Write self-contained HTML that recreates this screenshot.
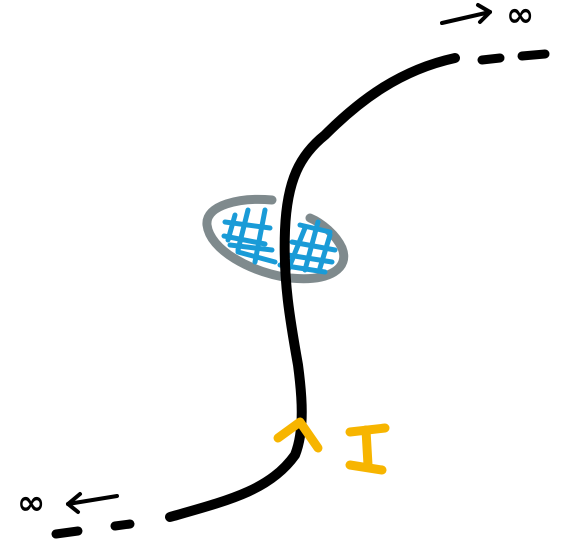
<!DOCTYPE html>
<html><head><style>html,body{margin:0;padding:0;background:#fff;}svg{display:block}</style></head>
<body>
<svg width="563" height="556" viewBox="0 0 563 556" xmlns="http://www.w3.org/2000/svg">
<g fill="none" stroke-linecap="round" stroke-linejoin="round">
  <path d="M272,200 C240,197 205,205 207,225 C210,250 250,272 290,278 C330,282 350,268 342,248 C336,235 322,223 310,218" stroke="#7f8a8d" stroke-width="9"/>
  <g stroke="#1a9bd7" stroke-width="5">
    <path d="M248,210 L238,250"/><path d="M265,210 L255,262"/><path d="M235,215 L228,240"/>
    <path d="M225,222 L270,228"/><path d="M224,236 L265,244"/><path d="M238,252 L275,262"/>
    <path d="M230,245 L272,250"/>
    <path d="M305,228 L288,270"/><path d="M318,222 L305,270"/><path d="M330,235 L320,268"/>
    <path d="M292,242 L335,250"/><path d="M288,255 L332,262"/><path d="M280,265 L325,272"/>
    <path d="M300,225 L330,232"/>
  </g>
  <path d="M170,517 C230,500 270,490 295,455 C305,430 302,395 298,365 C290,320 283,280 285,230 C287,180 300,155 325,135 C360,100 400,70 455,58" stroke="#000" stroke-width="10"/>
  <g stroke="#000" stroke-width="9">
    <path d="M482,60 L500,58"/><path d="M522,56 L545,54"/>
  </g>
  <g stroke="#000" stroke-width="4">
    <path d="M442,23 L490,12"/><path d="M478,5 L490,12 L480,22"/>
  </g>
  <g stroke="#000" stroke-width="9">
    <path d="M56,534 L78,531"/><path d="M115,526 L130,524"/>
  </g>
  <g stroke="#000" stroke-width="4">
    <path d="M117,496 L68,504"/><path d="M80,494 L68,504 L78,512"/>
  </g>
  <g stroke="#f7b500" stroke-width="9">
    <path d="M278,438 L300,422 L318,448"/>
  </g>
  <g stroke="#f7b500" stroke-width="9">
    <path d="M350,432 L385,428"/><path d="M366,430 L368,465"/><path d="M350,465 L382,470"/>
  </g>
</g>
<text x="506" y="26" font-family="DejaVu Sans, sans-serif" font-size="34" font-weight="bold" fill="#000">∞</text>
<text x="17" y="514" font-family="DejaVu Sans, sans-serif" font-size="34" font-weight="bold" fill="#000">∞</text>
</svg>
</body></html>
